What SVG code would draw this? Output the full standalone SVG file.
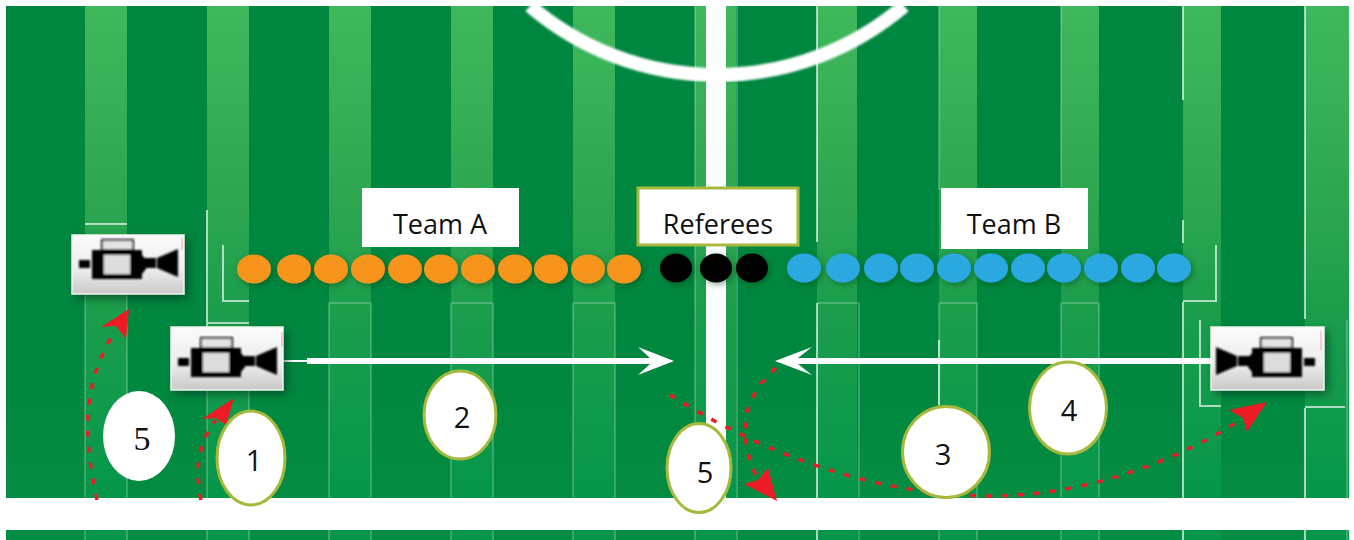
<svg xmlns="http://www.w3.org/2000/svg" width="1354" height="540" viewBox="0 0 1354 540">
<defs>
<linearGradient id="stripe" gradientUnits="userSpaceOnUse" x1="0" y1="6" x2="0" y2="500"><stop offset="0" stop-color="#3fb85c"/><stop offset="0.4" stop-color="#2ea650"/><stop offset="0.6" stop-color="#1c9e4c"/><stop offset="1" stop-color="#05964a"/></linearGradient>
<linearGradient id="base" gradientUnits="userSpaceOnUse" x1="0" y1="6" x2="0" y2="540"><stop offset="0" stop-color="#00873f"/><stop offset="0.65" stop-color="#00873f"/><stop offset="1" stop-color="#038d42"/></linearGradient>
<linearGradient id="cam" x1="0" y1="0" x2="0" y2="1"><stop offset="0" stop-color="#fbfbfb"/><stop offset="0.6" stop-color="#ececec"/><stop offset="1" stop-color="#c9c9c9"/></linearGradient>
<filter id="shadow" x="-30%" y="-30%" width="160%" height="160%"><feGaussianBlur stdDeviation="5"/></filter>
<filter id="soft" x="-10%" y="-10%" width="120%" height="120%"><feGaussianBlur stdDeviation="0.9"/></filter>
<filter id="arrowsoft" x="-5%" y="-30%" width="110%" height="160%"><feGaussianBlur stdDeviation="0.7"/></filter>
<filter id="arcsoft" x="-5%" y="-10%" width="110%" height="120%"><feGaussianBlur stdDeviation="0.8"/></filter>
<filter id="ds" x="-5%" y="-40%" width="110%" height="180%"><feDropShadow dx="2" dy="2" stdDeviation="3" flood-color="#003a1c" flood-opacity="0.45"/></filter>
<g id="icon" filter="url(#soft)">
<rect x="7" y="25" width="11" height="8" fill="#000"/>
<rect x="20" y="15" width="50" height="29" fill="#000"/>
<path d="M70 20 L74 25 V34 L70 39Z" fill="#000"/>
<rect x="32" y="20" width="26" height="19" fill="#dcdcdc"/>
<rect x="30" y="5" width="31" height="10" fill="#e4e4e4" stroke="#111" stroke-width="2"/>
<rect x="71" y="23" width="13" height="10" fill="#000"/>
<path d="M85 23 L106 14 V42 L85 33Z" fill="#000"/>
</g>
<style>
.st{fill:url(#stripe)}
.thin{stroke:#fff;stroke-opacity:.28;stroke-width:1.5;fill:none}
.bright{stroke:#fff;stroke-opacity:.65;stroke-width:2;fill:none}
.mark{fill:#fff}
.red{fill:none;stroke:#ed1c24;stroke-width:3.5;stroke-dasharray:6 10}
.head{fill:#ed1c24}
.arr{fill:#fff}
.o{fill:#f7941d}.k{fill:#000}.b{fill:#29a8e0}
.box{fill:#fff}
.oval{fill:#fff;stroke:#a6b93c;stroke-width:3}
.camshadow{fill:#00331a;opacity:.6;filter:url(#shadow)}
.cambox{fill:url(#cam);stroke:#f2f5f0;stroke-width:1.5}
.pink{stroke:#f4a0a8;stroke-width:1;fill:none}
.t{font-family:"Open Sans","Noto Sans",sans-serif;font-size:27px;fill:#111;text-anchor:middle}
.n{font-family:"Open Sans","Noto Sans",sans-serif;font-size:29px;fill:#111;text-anchor:middle}
</style>
</defs>
<rect width="1354" height="540" fill="#fff"/>
<g id="field">
<rect x="6" y="6" width="1343" height="534" fill="url(#base)"/>
<rect class="st" x="85" y="6" width="42" height="534"/>
<rect class="st" x="207" y="6" width="42" height="534"/>
<rect class="st" x="329" y="6" width="42" height="534"/>
<rect class="st" x="451" y="6" width="42" height="534"/>
<rect class="st" x="573" y="6" width="42" height="534"/>
<rect class="st" x="695" y="6" width="41" height="534"/>
<rect class="st" x="817" y="6" width="40" height="534"/>
<rect class="st" x="939" y="6" width="38" height="534"/>
<rect class="st" x="1061" y="6" width="38" height="534"/>
<rect class="st" x="1183" y="6" width="38" height="534"/>
<rect class="st" x="1305" y="6" width="44" height="534"/>
<path class="thin" d="M85 294V540M127 294V540M207 330V540M249 390V540M329 303V540M371 303V540M451 303V540M493 303V540M573 303V540M615 303V540M695 6V540M737 6V540M859 303V540M939 6V190M939 303V540M977 303V540M1061 6V190M1061 303V540M1099 303V540M1347 320V540M329 303H371M451 303H493M573 303H615M817 303H859M939 303H977M1061 303H1099"/>
<path class="bright" d="M817 6V242M817 303V540M85 224H127M207 210V327M223 245V301H249M207 323H249M1183 6V100M1183 220V243M1183 302V540M1216 245V301H1183M1200 320V406H1221M1305 6V319M1305 408V540M1305 407H1345M939 340V405"/>
<path class="mark" d="M706 6H726V498H745V505H656V498H706Z"/>
<path d="M530 6A288 288 0 0 0 904 6" fill="none" stroke="#fff" stroke-width="14" filter="url(#arcsoft)"/>
<path class="mark" d="M6 498H656V505H745V498H1349V530H6Z"/>
</g>
<g id="team-a-players" filter="url(#ds)">
<ellipse class="o" cx="254" cy="269" rx="17" ry="14.5"/><ellipse class="o" cx="294" cy="269" rx="17" ry="14.5"/><ellipse class="o" cx="331" cy="269" rx="17" ry="14.5"/><ellipse class="o" cx="368" cy="269" rx="17" ry="14.5"/><ellipse class="o" cx="405" cy="269" rx="17" ry="14.5"/><ellipse class="o" cx="441" cy="269" rx="17" ry="14.5"/><ellipse class="o" cx="478" cy="269" rx="17" ry="14.5"/><ellipse class="o" cx="515" cy="269" rx="17" ry="14.5"/><ellipse class="o" cx="551" cy="269" rx="17" ry="14.5"/><ellipse class="o" cx="588" cy="269" rx="17" ry="14.5"/><ellipse class="o" cx="624" cy="269" rx="17" ry="14.5"/>
</g>
<g id="referee-players" filter="url(#ds)">
<ellipse class="k" cx="676" cy="268" rx="16" ry="14.5"/><ellipse class="k" cx="716" cy="268" rx="16" ry="14.5"/><ellipse class="k" cx="752" cy="268" rx="16" ry="14.5"/>
</g>
<g id="team-b-players" filter="url(#ds)">
<ellipse class="b" cx="804" cy="268" rx="17" ry="14.5"/><ellipse class="b" cx="843" cy="268" rx="17" ry="14.5"/><ellipse class="b" cx="881" cy="268" rx="17" ry="14.5"/><ellipse class="b" cx="917" cy="268" rx="17" ry="14.5"/><ellipse class="b" cx="954" cy="268" rx="17" ry="14.5"/><ellipse class="b" cx="991" cy="268" rx="17" ry="14.5"/><ellipse class="b" cx="1028" cy="268" rx="17" ry="14.5"/><ellipse class="b" cx="1064" cy="268" rx="17" ry="14.5"/><ellipse class="b" cx="1101" cy="268" rx="17" ry="14.5"/><ellipse class="b" cx="1138" cy="268" rx="17" ry="14.5"/><ellipse class="b" cx="1174" cy="268" rx="17" ry="14.5"/>
</g>
<g id="connectors">
<g filter="url(#arrowsoft)">
<path class="arr" d="M283 360H307V358H650L638 347L674 361L638 375L650 364H307V362H283Z"/>
<path class="arr" d="M1211 358H798L812 347L775 361L812 375L798 364H1211Z"/>
</g>
<path class="red" d="M97 500C84 440 80 385 116 330"/>
<path class="head" d="M129 309L126 339L116 326L101 327Z"/>
<path class="red" d="M201 500C194 465 200 440 216 420"/>
<path class="head" d="M234 398L226 425L216 418L202 419Z"/>
<path class="red" d="M670 395C750 445 860 495 990 496C1080 496 1170 465 1240 420"/>
<path class="head" d="M1267 402L1247 432L1243 418L1229 410Z"/>
<path class="red" d="M776 368C745 395 735 430 757 478"/>
<path class="head" d="M777 501L744 484L758 480L768 468Z"/>
</g>
<g id="camera-1"><rect class="camshadow" x="76" y="239" width="112" height="60"/><rect class="cambox" x="72" y="235" width="112" height="59"/><use href="#icon" x="72" y="235"/><path class="pink" d="M182 238V250"/></g>
<g id="camera-2"><rect class="camshadow" x="175" y="331" width="112" height="63"/><rect class="cambox" x="171" y="327" width="112" height="63"/><use href="#icon" x="171" y="333"/><path class="pink" d="M282 332V346"/></g>
<g id="camera-3"><rect class="camshadow" x="1215" y="331" width="113" height="63"/><rect class="cambox" x="1211" y="327" width="113" height="63"/><use href="#icon" transform="translate(1322 333) scale(-1 1)"/><path class="pink" d="M1321 331V350"/></g>
<g id="label-team-a"><rect class="box" x="362" y="188" width="157" height="59"/><text class="t" x="440" y="234">Team A</text></g>
<g id="label-referees"><rect class="box" x="638" y="188" width="160" height="57" stroke="#a6b93c" stroke-width="3"/><text class="t" x="718" y="234">Referees</text></g>
<g id="label-team-b"><rect class="box" x="941" y="188" width="147" height="61"/><text class="t" x="1014" y="234">Team B</text></g>
<g id="step-5-left"><ellipse cx="139" cy="436" rx="36" ry="45" fill="#fff"/><text x="142" y="450" font-family="'Liberation Serif',serif" font-size="34" fill="#111" text-anchor="middle">5</text></g>
<g id="step-1"><ellipse class="oval" cx="251" cy="458" rx="34" ry="47"/><text class="n" x="254" y="471">1</text></g>
<g id="step-2"><ellipse class="oval" cx="460" cy="415" rx="36" ry="44"/><text class="n" x="462" y="428">2</text></g>
<g id="step-3"><ellipse class="oval" cx="946" cy="452" rx="43.5" ry="45.5"/><text class="n" x="943" y="465">3</text></g>
<g id="step-4"><ellipse class="oval" cx="1068" cy="408" rx="38.5" ry="46"/><text class="n" x="1069" y="421">4</text></g>
<g id="step-5"><ellipse class="oval" cx="699" cy="468" rx="32" ry="44.5"/><text class="n" x="705" y="483">5</text></g>
</svg>
